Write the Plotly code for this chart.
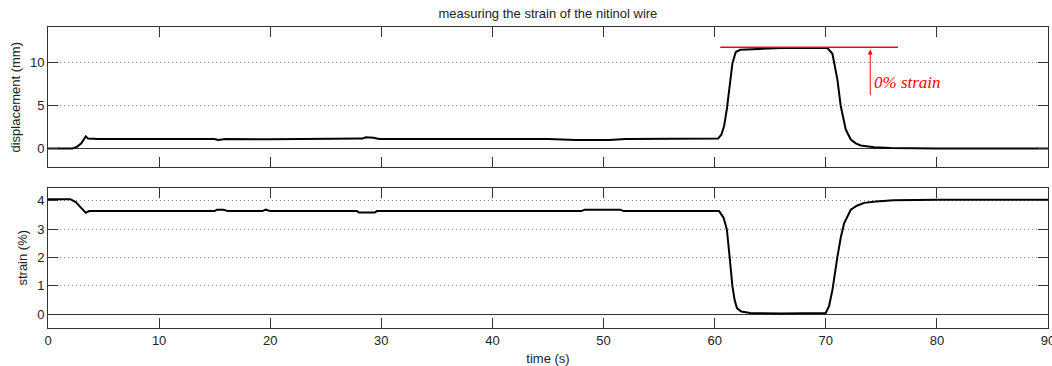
import plotly.graph_objects as go
from plotly.subplots import make_subplots

# ---- data ----
disp_t = [0, 2.2, 2.6, 3.0, 3.4, 3.6, 4.5, 8, 12, 15.0, 15.3, 16.0, 20, 25, 28.3, 28.6, 29.3, 29.8,
          35, 40, 45, 47.5, 50.5, 52, 56, 60.3, 60.6, 60.85, 61.1, 61.3, 61.6, 61.9, 62.3, 62.9,
          64.4, 66, 69, 70.15, 70.6, 71.05, 71.35, 71.8, 72.25, 72.7, 73.15, 74.35, 75.85, 80, 90]
disp_mm = [0, 0, 0.2, 0.6, 1.42, 1.15, 1.12, 1.12, 1.1, 1.1, 0.98, 1.1, 1.08, 1.1, 1.15, 1.3, 1.25, 1.12,
           1.1, 1.08, 1.1, 1.0, 1.0, 1.1, 1.1, 1.15, 1.6, 2.6, 4.6, 6.8, 9.9, 11.2, 11.45, 11.5,
           11.62, 11.66, 11.66, 11.66, 11.0, 7.96, 4.9, 2.2, 1.04, 0.6, 0.35, 0.15, 0.05, 0, 0]

strain_t = [0, 2.0, 2.5, 3.0, 3.4, 3.7, 8, 12, 15.0, 15.2, 15.8, 16.2, 19.3, 19.6, 20, 25, 27.8, 28.0,
            29.4, 29.6, 35, 40, 48, 48.3, 51.5, 51.8, 56, 60.4, 60.8, 61.1, 61.35, 61.6, 61.8, 62.0,
            62.4, 63.2, 66, 69.5, 70.0, 70.3, 70.6, 71.05, 71.35, 71.65, 72.0, 72.25, 72.8, 73.45,
            74.5, 76.1, 80, 90]
strain_pct = [4.05, 4.05, 3.95, 3.75, 3.57, 3.63, 3.63, 3.63, 3.63, 3.68, 3.68, 3.63, 3.63, 3.68, 3.63,
              3.63, 3.63, 3.58, 3.58, 3.63, 3.63, 3.63, 3.63, 3.68, 3.68, 3.63, 3.63, 3.63, 3.4, 2.98,
              2.0, 0.98, 0.5, 0.22, 0.1, 0.05, 0.03, 0.03, 0.05, 0.3, 0.86, 2.03, 2.7, 3.2, 3.5, 3.68,
              3.82, 3.92, 3.97, 4.01, 4.03, 4.03]

x_ticks = [0, 10, 20, 30, 40, 50, 60, 70, 80, 90]
disp_ticks = [0, 5, 10]
strain_ticks = [0, 1, 2, 3, 4]

ref_line_t = [60.5, 76.5]
ref_line_y = [11.75, 11.75]
arrow_t = 74.0
arrow_from, arrow_to = 6.0, 11.5

FONT = "Liberation Sans, Arial, sans-serif"

fig = make_subplots(rows=2, cols=1, shared_xaxes=False, vertical_spacing=0.0665)

fig.add_trace(go.Scatter(x=disp_t, y=disp_mm, mode="lines",
                         line=dict(color="black", width=2), showlegend=False), row=1, col=1)
fig.add_trace(go.Scatter(x=ref_line_t, y=ref_line_y, mode="lines",
                         line=dict(color="#ff0000", width=1.3), showlegend=False), row=1, col=1)
fig.add_trace(go.Scatter(x=strain_t, y=strain_pct, mode="lines",
                         line=dict(color="black", width=2), showlegend=False), row=2, col=1)

fig.add_annotation(x=arrow_t, y=arrow_to, ax=arrow_t, ay=arrow_from, xref="x", yref="y",
                   axref="x", ayref="y", text="", showarrow=True, arrowhead=2, arrowsize=1,
                   arrowwidth=1, arrowcolor="#ff0000")
fig.add_annotation(x=arrow_t, y=7.7, xref="x", yref="y", text="<i>0% strain</i>", showarrow=False,
                   xanchor="left", yanchor="middle", xshift=2,
                   font=dict(family="Liberation Serif, serif", size=17, color="#ff0000"))

axis_common = dict(showline=True, linecolor="#333", linewidth=1, mirror="ticks",
                   ticks="inside", ticklen=10, tickcolor="#333", ticklabeloverflow="allow",
                   automargin=False,
                   tickfont=dict(family=FONT, size=13, color="#222"))

fig.update_xaxes(range=[0, 90], tickvals=x_ticks, showgrid=False, zeroline=False, **axis_common)
fig.update_xaxes(showticklabels=False, row=1, col=1)
fig.update_xaxes(title=dict(text="time (s)", font=dict(family=FONT, size=13, color="#222"), standoff=8),
                 row=2, col=1)

fig.update_yaxes(showgrid=True, gridcolor="#888", griddash="1px,3px", gridwidth=1,
                 zeroline=True, zerolinecolor="#333", zerolinewidth=1, **axis_common)
fig.update_yaxes(range=[-2.2, 14.1], tickvals=disp_ticks,
                 title=dict(text="displacement (mm)", font=dict(family=FONT, size=13, color="#222"), standoff=6),
                 row=1, col=1)
fig.update_yaxes(range=[-0.48, 4.46], tickvals=strain_ticks,
                 title=dict(text="strain (%)", font=dict(family=FONT, size=13, color="#222"), standoff=6),
                 row=2, col=1)

fig.update_layout(
    width=1052, height=366,
    margin=dict(l=48, r=4, t=27, b=38),
    plot_bgcolor="white", paper_bgcolor="white",
    title=dict(text="measuring the strain of the nitinol wire", x=0.5208, xanchor="center",
               y=1 - 13 / 366, yanchor="middle", yref="container",
               font=dict(family=FONT, size=13, color="#222")),
)

fig.write_html("out.html")
